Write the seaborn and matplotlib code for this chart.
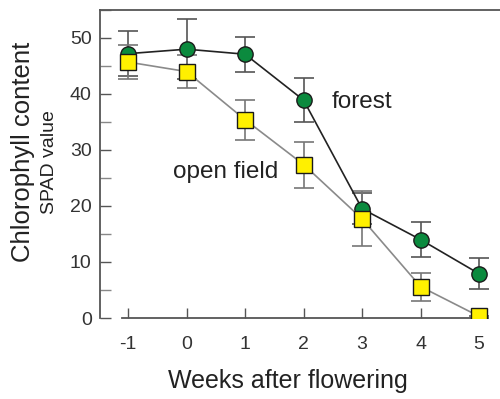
import matplotlib
matplotlib.use("Agg")
import matplotlib.pyplot as plt
import seaborn as sns
import pandas as pd
from matplotlib.ticker import MultipleLocator

weeks = [-1, 0, 1, 2, 3, 4, 5]
forest = [47.2, 48.0, 47.1, 38.9, 19.5, 14.0, 7.9]
forest_err = [4.0, 5.4, 3.1, 3.9, 2.8, 3.1, 2.8]
open_field = [45.7, 44.0, 35.4, 27.4, 17.7, 5.6, 0.3]
open_err = [3.1, 2.9, 3.6, 4.1, 4.9, 2.5, 0.0]
xticks = [-1, 0, 1, 2, 3, 4, 5]
yticks = [0, 10, 20, 30, 40, 50]

sns.set_style("white")
plt.rcParams['font.family'] = ['Liberation Sans', 'DejaVu Sans']

df = pd.DataFrame({
    "week": weeks * 2,
    "value": forest + open_field,
    "site": ["forest"] * len(weeks) + ["open field"] * len(weeks),
})

fig = plt.figure(figsize=(5.0, 3.99), dpi=100)
ax = fig.add_axes([0.2, 0.203, 0.805, 0.772])

ecol = "#555555"
ax.errorbar(weeks, forest, yerr=forest_err, fmt="none", ecolor=ecol,
            elinewidth=1.2, capsize=7, capthick=1.2, zorder=2)
ax.errorbar(weeks, open_field, yerr=open_err, fmt="none", ecolor="#777777",
            elinewidth=1.2, capsize=7, capthick=1.2, zorder=2)

sns.lineplot(data=df[df.site == "forest"], x="week", y="value", ax=ax,
             color="#222222", lw=1.2, marker="o", markersize=11,
             markerfacecolor="#0b8a3e", markeredgecolor="#1a1a1a",
             markeredgewidth=1.0, zorder=3, legend=False)
sns.lineplot(data=df[df.site == "open field"], x="week", y="value", ax=ax,
             color="#8a8a8a", lw=1.2, marker="s", markersize=11,
             markerfacecolor="#fff000", markeredgecolor="#1a1a1a",
             markeredgewidth=1.0, zorder=4, legend=False)

ax.set_xlim(-1.48, 5.4)
ax.set_ylim(0, 55)
ax.set_xticks(xticks)
ax.set_xticklabels([str(t) for t in xticks])
ax.set_yticks(yticks)
ax.yaxis.set_minor_locator(MultipleLocator(5))
ax.set_xlabel("")
ax.set_ylabel("")

spcol = "#555555"
for s in ["left", "top", "bottom"]:
    ax.spines[s].set_color(spcol)
    ax.spines[s].set_linewidth(1.3)
ax.spines["right"].set_visible(False)
ax.spines["bottom"].set_bounds(-1.1, 5.15)

ax.tick_params(axis="x", direction="in", length=7, width=1.0, color=spcol,
               labelsize=14, labelcolor="#333333", pad=13, bottom=True)
ax.tick_params(axis="y", which="major", direction="in", length=8, width=1.0,
               color=spcol, labelsize=14, labelcolor="#333333", pad=6, left=True)
ax.tick_params(axis="y", which="minor", direction="in", length=8, width=1.0,
               color="#888888", left=True)

ax.text(2.48, 38.5, "forest", fontsize=17.5, color="#222222", va="center", ha="left")
ax.text(-0.24, 26.0, "open field", fontsize=17.5, color="#222222", va="center", ha="left")

fig.text(0.046, 0.62, "Chlorophyll content", rotation=90, fontsize=18.5,
         color="#222222", ha="center", va="center")
fig.text(0.1, 0.594, "SPAD value", rotation=90, fontsize=14,
         color="#222222", ha="center", va="center")
fig.text(0.575, 0.045, "Weeks after flowering", fontsize=18,
         color="#222222", ha="center", va="center")

fig.savefig("out.png", dpi=100)
